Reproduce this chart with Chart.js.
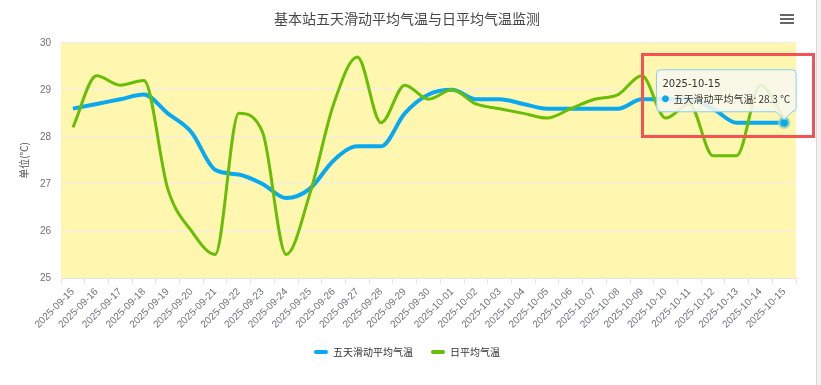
<!DOCTYPE html>
<html>
<head>
<meta charset="utf-8">
<script src="https://cdn.jsdelivr.net/npm/chart.js@4/dist/chart.umd.min.js"></script>
<style>
    body { margin: 0; background: #fff; }
    .wrapper { position: relative; width: 821px; height: 385px; overflow: hidden; }
    #chart { position: absolute; left: 0; top: 0; }
    .mark { position: absolute; left: 641px; top: 53px; width: 168px; height: 79px; border: 3px solid #f55353; }
    .scroll { position: absolute; left: 816px; top: 0; width: 5px; height: 385px; background: #f1f1f1; border-left: 1px solid #d6d6d6; }
</style>
</head>
<body>
<div class="wrapper">
    <canvas id="chart" width="810" height="385"></canvas>
    <div class="mark"></div>
    <div class="scroll"></div>
</div>
<script>
// ===== données =====
const dates = [
    '2025-09-15', '2025-09-16', '2025-09-17', '2025-09-18', '2025-09-19', '2025-09-20', '2025-09-21',
    '2025-09-22', '2025-09-23', '2025-09-24', '2025-09-25', '2025-09-26', '2025-09-27', '2025-09-28',
    '2025-09-29', '2025-09-30', '2025-10-01', '2025-10-02', '2025-10-03', '2025-10-04', '2025-10-05',
    '2025-10-06', '2025-10-07', '2025-10-08', '2025-10-09', '2025-10-10', '2025-10-11', '2025-10-12',
    '2025-10-13', '2025-10-14', '2025-10-15'
];

// 五天滑动平均气温
const avg5 = [28.6, 28.7, 28.8, 28.9, 28.5, 28.1, 27.3, 27.2, 27.0, 26.7, 26.9, 27.5, 27.8, 27.8, 28.5, 28.9,
    29.0, 28.8, 28.8, 28.7, 28.6, 28.6, 28.6, 28.6, 28.8, 28.8, 28.8, 28.6, 28.3, 28.3, 28.3];

// 日平均气温
const daily = [28.2, 29.3, 29.1, 29.2, 26.9, 26.0, 25.5, 28.5, 28.1, 25.5, 26.8, 28.7, 29.7, 28.3, 29.1, 28.8,
    29.0, 28.7, 28.6, 28.5, 28.4, 28.6, 28.8, 28.9, 29.3, 28.4, 28.7, 27.6, 27.6, 29.1, 28.4];

const yTicks = [25, 26, 27, 28, 29, 30];

const BLUE = '#08a9f1';
const GREEN = '#68be04';
const cjk = "'Noto Sans CJK SC', 'Noto Sans', sans-serif";

// fond jaune + icône menu
const decor = {
    id: 'decor',
    beforeDraw(chart) {
        const { ctx, chartArea: a } = chart;
        ctx.save();
        ctx.fillStyle = '#fff6b0';
        ctx.fillRect(a.left, a.top, a.right - a.left, a.bottom - a.top);
        ctx.restore();
    },
    afterDraw(chart) {
        const ctx = chart.ctx;
        const x0 = chart.width - 30;
        ctx.save();
        ctx.strokeStyle = '#666';
        ctx.lineWidth = 2;
        [15, 19, 23].forEach(y => {
            ctx.beginPath();
            ctx.moveTo(x0, y);
            ctx.lineTo(x0 + 14, y);
            ctx.stroke();
        });
        ctx.restore();
    }
};

const data = {
    labels: dates,
    datasets: [
        {
            label: '五天滑动平均气温',
            data: avg5,
            borderColor: BLUE,
            backgroundColor: BLUE,
            borderWidth: 4,
            cubicInterpolationMode: 'monotone',
            pointRadius: 0,
            pointHoverRadius: 5,
            pointHoverBackgroundColor: BLUE,
            pointHoverBorderColor: 'rgba(160,215,170,0.65)',
            pointHoverBorderWidth: 3,
            order: 1
        },
        {
            label: '日平均气温',
            data: daily,
            borderColor: GREEN,
            backgroundColor: GREEN,
            borderWidth: 3,
            cubicInterpolationMode: 'monotone',
            pointRadius: 0,
            pointHoverRadius: 0,
            order: 0
        }
    ]
};

const config = {
    type: 'line',
    data: data,
    plugins: [decor],
    options: {
        responsive: false,
        animation: false,
        events: [],
        layout: { padding: { left: 18, right: 14, top: 0, bottom: 18 } },
        scales: {
            x: {
                offset: true,
                grid: { offset: true, drawOnChartArea: false, tickLength: 6, color: '#e0e6f1' },
                border: { color: '#e0e6f1' },
                ticks: {
                    autoSkip: false, maxRotation: 45, minRotation: 45, padding: 2,
                    color: '#6e7079', font: { size: 10, family: "'Liberation Sans', sans-serif" }
                },
                afterFit: s => { s.height = 51; }
            },
            y: {
                min: 25,
                max: 30,
                afterBuildTicks: s => { s.ticks = yTicks.map(v => ({ value: v })); },
                grid: { color: '#eeeeee', drawTicks: false },
                border: { display: false },
                ticks: { padding: 10, color: '#6e7079', font: { size: 10, family: "'Liberation Sans', sans-serif" } },
                title: { display: true, text: '单位(℃)', padding: 0, color: '#555', font: { size: 10, family: cjk } },
                afterFit: s => { s.width = 43; }
            }
        },
        plugins: {
            title: {
                display: true,
                text: '基本站五天滑动平均气温与日平均气温监测',
                color: '#464646',
                font: { size: 14, weight: 'normal', family: cjk },
                padding: { top: 10, bottom: 16 }
            },
            legend: {
                position: 'bottom',
                labels: {
                    boxWidth: 14,
                    boxHeight: 4,
                    padding: 18,
                    color: '#333',
                    useBorderRadius: true,
                    borderRadius: 2,
                    font: { size: 10, family: cjk },
                    sort: (a, b) => a.datasetIndex - b.datasetIndex,
                    generateLabels: chart => Chart.defaults.plugins.legend.labels.generateLabels(chart)
                        .map(l => Object.assign(l, { lineWidth: 0 }))
                }
            },
            tooltip: {
                xAlign: 'right',
                yAlign: 'bottom',
                backgroundColor: 'rgba(248,248,238,0.88)',
                borderColor: '#86cff2',
                borderWidth: 1,
                cornerRadius: 4,
                caretSize: 8,
                caretPadding: 3,
                padding: { left: 6, right: 6, top: 9, bottom: 7 },
                titleColor: '#333',
                bodyColor: '#333',
                titleFont: { size: 10, weight: 'normal', family: "'DejaVu Sans', sans-serif" },
                bodyFont: { size: 10, family: cjk },
                titleMarginBottom: 2,
                usePointStyle: true,
                boxWidth: 6,
                boxHeight: 6,
                boxPadding: 3,
                callbacks: {
                    label: ctx => ctx.dataset.label + ': ' + ctx.parsed.y + ' ℃',
                    labelColor: () => ({ borderColor: BLUE, backgroundColor: BLUE }),
                    labelPointStyle: () => ({ pointStyle: 'circle', rotation: 0 })
                }
            }
        }
    }
};

const chart = new Chart(document.querySelector('#chart'), config);
const active = [{ datasetIndex: 0, index: dates.length - 1 }];
chart.setActiveElements(active);
chart.tooltip.setActiveElements(active, { x: 0, y: 0 });
chart.update('none');
</script>
</body>
</html>
